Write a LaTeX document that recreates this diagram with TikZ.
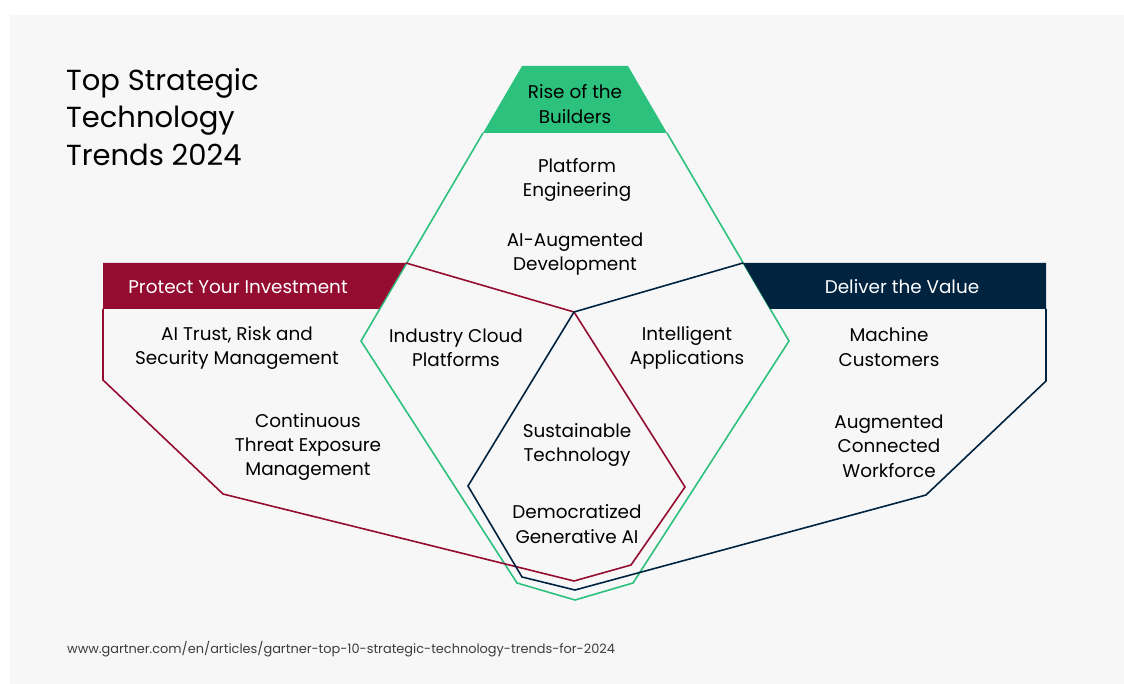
\documentclass[tikz,border=0pt]{standalone}
\usepackage{fontspec}
\setmainfont{Poppins}
\definecolor{bggray}{HTML}{F7F7F7}
\definecolor{trgreen}{RGB}{44,194,125}
\definecolor{trred}{RGB}{149,12,49}
\definecolor{trnavy}{RGB}{0,35,64}
\definecolor{urlgray}{RGB}{60,60,60}
\begin{document}
\begin{tikzpicture}[x=1pt,y=-1pt,
  outline/.style={line width=1.6pt,line join=miter},
  label/.style={align=center,font=\fontsize{18.4}{24.3}\selectfont,text=black,inner sep=0pt},
  head/.style={align=center,font=\fontsize{18.4}{24.3}\selectfont,text=white,inner sep=0pt},
  title/.style={align=left,font=\fontsize{29}{37.5}\selectfont,text=black,inner sep=0pt,anchor=north west},
  url/.style={font=\fontsize{12.9}{15}\selectfont,text=urlgray,inner sep=0pt,anchor=base west}]
\useasboundingbox (0,0) rectangle (1124,684);
\fill[bggray] (10,15) rectangle (1124,684);
% green shape
\coordinate (g1) at (522,66);
\coordinate (g2) at (628,66);
\coordinate (g3) at (667,133);
\coordinate (g4) at (789,341);
\coordinate (g5) at (633,583);
\coordinate (g6) at (575,600);
\coordinate (g7) at (517,583);
\coordinate (g8) at (361,341);
\coordinate (g9) at (483,133);
\fill[trgreen] (g1) -- (g2) -- (g3) -- (g9) -- cycle;
\draw[outline,trgreen] (g9) -- (g8) -- (g7) -- (g6) -- (g5) -- (g4) -- (g3);
% red shape
\coordinate (r1) at (103,263);
\coordinate (r2) at (406,263);
\coordinate (r3) at (379,309);
\coordinate (r4) at (103,309);
\coordinate (r5) at (103,380);
\coordinate (r6) at (223,494);
\coordinate (r7) at (574,581);
\coordinate (r8) at (631,565);
\coordinate (r9) at (685,487);
\coordinate (c0) at (574,312);
\fill[trred] (r1) -- (r2) -- (r3) -- (r4) -- cycle;
\draw[outline,trred] (r4) -- (r5) -- (r6) -- (r7) -- (r8) -- (r9) -- (c0) -- (r2);
% navy shape
\coordinate (n1) at (1046,263);
\coordinate (n2) at (743,263);
\coordinate (n3) at (770,309);
\coordinate (n4) at (1046,309);
\coordinate (n5) at (1046,381);
\coordinate (n6) at (926,495);
\coordinate (n7) at (575,590);
\coordinate (n8) at (522,577);
\coordinate (n9) at (468,486);
\fill[trnavy] (n1) -- (n2) -- (n3) -- (n4) -- cycle;
\draw[outline,trnavy] (n4) -- (n5) -- (n6) -- (n7) -- (n8) -- (n9) -- (c0) -- (n2);
% title
\node[title] (ttl) at (66,68) {Top Strategic\\Technology\\Trends 2024};
% headers
\node[head] (hprotect) at (238,287) {Protect Your Investment};
\node[head] (hdeliver) at (902,287) {Deliver the Value};
\node[label] (hbuild) at (575,104) {Rise of the\\Builders};
% labels
\node[label] (plat) at (577,180) {Platform\\Engineering};
\node[label] (aiaug) at (575,254) {AI-Augmented\\Development};
\node[label] (trism) at (237,348) {AI Trust, Risk and\\Security Management};
\node[label] (icp) at (456,348) {Industry Cloud\\Platforms};
\node[label] (intapp) at (687,348) {Intelligent\\Applications};
\node[label] (mach) at (889,347) {Machine\\Customers};
\node[label] (ctem) at (308,447) {Continuous\\Threat Exposure\\Management};
\node[label] (acw) at (889,446) {Augmented\\Connected\\Workforce};
\node[label] (sust) at (577,445) {Sustainable\\Technology};
\node[label] (dgai) at (577,524) {Democratized\\Generative AI};
\node[url] (src) at (67,653) {www.gartner.com/en/articles/gartner-top-10-strategic-technology-trends-for-2024};
\end{tikzpicture}
\end{document}
